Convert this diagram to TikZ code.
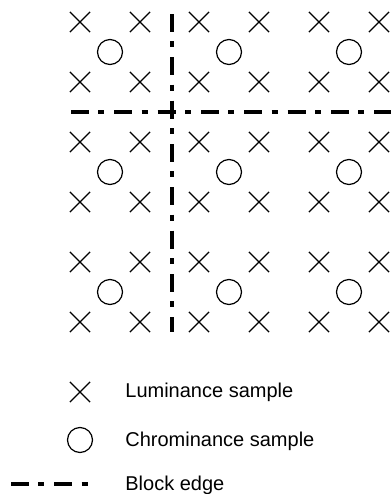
\documentclass[tikz,border=0pt]{standalone}
\usepackage{fontspec}
\setmainfont{Liberation Sans}
\usetikzlibrary{shapes.misc}

\begin{document}
\begin{tikzpicture}[x=0.75pt,y=-0.75pt,semithick]
  \tikzstyle{luma}=[draw=black,cross out,minimum size=14.25pt,inner sep=0pt,line width=0.9pt]
  \tikzstyle{chroma}=[draw=black,circle,minimum size=18.75pt,inner sep=0pt,line width=0.9pt]
  \tikzstyle{edge}=[draw=black,line width=2.3pt,line cap=butt,
                    dash pattern=on 13.5pt off 7pt on 4.5pt off 7.5pt]
  \tikzstyle{keytext}=[anchor=base west,inner sep=0pt,font=\fontsize{15}{18}\selectfont]

  \useasboundingbox (0,0) rectangle (391,494);

  % sample grid: one chroma sample between four luma samples
  \foreach \i/\cx in {1/110,2/229,3/349}
    \foreach \j/\cy in {1/52,2/172,3/292} {
      \node[chroma] (c\i\j)  at (\cx,\cy)       {};
      \node[luma]   (l\i\j a) at (\cx-30,\cy-30) {};
      \node[luma]   (l\i\j b) at (\cx+30,\cy-30) {};
      \node[luma]   (l\i\j c) at (\cx-30,\cy+30) {};
      \node[luma]   (l\i\j d) at (\cx+30,\cy+30) {};
    }

  % block edges
  \coordinate (vtop)   at (172,14);
  \coordinate (vbot)   at (172,332);
  \coordinate (hleft)  at (71,112);
  \coordinate (hright) at (391,112);
  \draw[edge] (vtop) -- (vbot);
  \draw[edge] (hleft) -- (hright);

  % key
  \node[luma]   (keyL) at (80,392) {};
  \node[chroma] (keyC) at (80,440) {};
  \coordinate (keyBa) at (11,484);
  \coordinate (keyBb) at (90,484);
  \draw[edge] (keyBa) -- (keyBb);

  \node[keytext] (txtL) at (125,397) {Luminance sample};
  \node[keytext] (txtC) at (125,446) {Chrominance sample};
  \node[keytext] (txtB) at (125,490) {Block edge};
\end{tikzpicture}
\end{document}
